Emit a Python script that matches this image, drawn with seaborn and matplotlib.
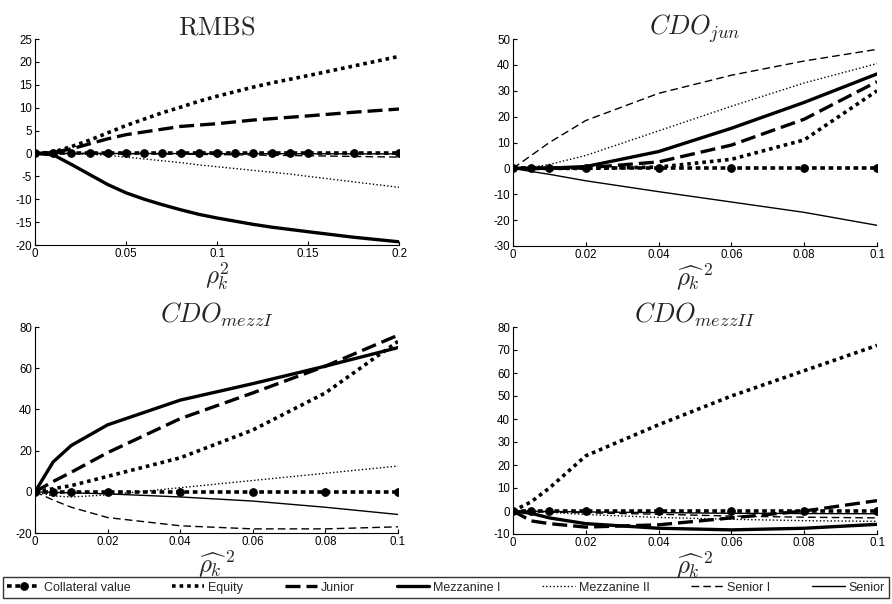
import numpy as np
import pandas as pd
import matplotlib
matplotlib.use("Agg")
import matplotlib.pyplot as plt
from matplotlib.ticker import FormatStrFormatter
import seaborn as sns

sns.set_style("white")
plt.rcParams['font.family'] = ['Liberation Sans', 'DejaVu Sans']
plt.rcParams['mathtext.fontset'] = 'cm'

series_names = ['Collateral value', 'Equity', 'Junior', 'Mezzanine I',
                'Mezzanine II', 'Senior I', 'Senior']

# ---- RMBS ----
x_rmbs = [0, .01, .02, .03, .04, .05, .06, .07, .08, .09, .10, .11, .12, .13, .14, .15, .175, .2]
rmbs_coll = [0] * 18
rmbs_equity = [0, 0.3, 1.5, 2.9, 4.5, 6.1, 7.5, 8.9, 10.1, 11.4, 12.5, 13.5, 14.5, 15.4, 16.2, 17.0, 19.1, 21.2]
rmbs_junior = [0, 0.2, 1.0, 2.1, 3.2, 4.1, 4.7, 5.3, 5.9, 6.2, 6.5, 6.9, 7.3, 7.6, 7.9, 8.2, 9.0, 9.7]
rmbs_mezz1 = [0, -0.3, -2.4, -4.6, -6.8, -8.6, -10.0, -11.2, -12.3, -13.3, -14.1, -14.8, -15.5, -16.1, -16.6, -17.1, -18.3, -19.3]
rmbs_mezz2 = [0, 0, -0.05, -0.2, -0.4, -0.8, -1.2, -1.6, -2.0, -2.5, -2.9, -3.3, -3.7, -4.1, -4.5, -5.0, -6.2, -7.4]
rmbs_senior1 = [0, 0, 0, 0, -0.02, -0.05, -0.08, -0.1, -0.15, -0.2, -0.25, -0.3, -0.35, -0.4, -0.45, -0.5, -0.65, -0.8]
rmbs_senior = [0, 0, 0, 0, 0, -0.01, -0.01, -0.02, -0.02, -0.03, -0.03, -0.04, -0.04, -0.05, -0.05, -0.06, -0.08, -0.1]

# ---- CDO panels ----
x_cdo = [0, .005, .01, .02, .04, .06, .08, .1]

jun_coll = [0] * 8
jun_equity = [0, 0, 0, 0, 0.5, 3.5, 11, 30]
jun_junior = [0, 0, 0, 0.2, 2.5, 9, 19, 33.5]
jun_mezz1 = [0, 0, 0.1, 0.7, 6.5, 15.5, 25.5, 36.5]
jun_mezz2 = [0, 0.4, 1.5, 5, 14.5, 24, 33, 40.5]
jun_senior1 = [0, 5, 10, 18.5, 29, 36, 41.5, 46]
jun_senior = [0, -1.2, -2.3, -4.8, -9, -13, -17, -22]

m1_coll = [0] * 8
m1_equity = [0, 1.5, 3, 7.5, 16.5, 30, 48, 73]
m1_junior = [0, 5, 9.5, 19, 35.5, 48, 61, 76]
m1_mezz1 = [0, 14.5, 22.5, 32.5, 44.5, 52.5, 61, 70]
m1_mezz2 = [0, -2, -2.5, -1.5, 2, 5.5, 9, 12.5]
m1_senior1 = [0, -4, -7.5, -12.5, -16.5, -18, -18, -17]
m1_senior = [0, -0.3, -0.5, -1, -2.5, -4.5, -7.5, -11]

m2_coll = [0] * 8
m2_equity = [0, 4, 10, 24, 37.5, 50, 61, 72]
m2_junior = [0, -4.3, -5.5, -7, -6, -3, 0, 4.5]
m2_mezz1 = [0, -1, -3, -5.5, -7.5, -8.2, -7.5, -5.8]
m2_mezz2 = [0, -0.3, -0.6, -1.5, -2.8, -3.6, -4.2, -4.5]
m2_senior1 = [0, -0.2, -0.4, -0.8, -1.4, -2.2, -2.7, -3.0]
m2_senior = [0, -0.1, -0.2, -0.4, -0.7, -1, -1.1, -1.2]

panels = [
    dict(title=r'$\mathrm{RMBS}$', xlabel=r'$\rho_k^2$', x=x_rmbs,
         ys=[rmbs_coll, rmbs_equity, rmbs_junior, rmbs_mezz1, rmbs_mezz2, rmbs_senior1, rmbs_senior],
         xlim=(0, 0.2), xticks=[0, 0.05, 0.1, 0.15, 0.2], ylim=(-20, 25), yticks=range(-20, 26, 5),
         pos=(35, 39, 399, 245)),
    dict(title=r'$CDO_{jun}$', xlabel=r'$\widehat{\rho_k}^{\,2}$', x=x_cdo,
         ys=[jun_coll, jun_equity, jun_junior, jun_mezz1, jun_mezz2, jun_senior1, jun_senior],
         xlim=(0, 0.1), xticks=[0, 0.02, 0.04, 0.06, 0.08, 0.1], ylim=(-30, 50), yticks=range(-30, 51, 10),
         pos=(513, 39, 877, 246)),
    dict(title=r'$CDO_{mezzI}$', xlabel=r'$\widehat{\rho_k}^{\,2}$', x=x_cdo,
         ys=[m1_coll, m1_equity, m1_junior, m1_mezz1, m1_mezz2, m1_senior1, m1_senior],
         xlim=(0, 0.1), xticks=[0, 0.02, 0.04, 0.06, 0.08, 0.1], ylim=(-20, 80), yticks=range(-20, 81, 20),
         pos=(35, 327, 398, 533)),
    dict(title=r'$CDO_{mezzII}$', xlabel=r'$\widehat{\rho_k}^{\,2}$', x=x_cdo,
         ys=[m2_coll, m2_equity, m2_junior, m2_mezz1, m2_mezz2, m2_senior1, m2_senior],
         xlim=(0, 0.1), xticks=[0, 0.02, 0.04, 0.06, 0.08, 0.1], ylim=(-10, 80), yticks=range(-10, 81, 10),
         pos=(513, 327, 877, 534)),
]

styles = {
    'Collateral value': dict(linewidth=2.6, linestyle=(0, (1.3, 1.0)), marker='o', markersize=5.5, zorder=5),
    'Equity': dict(linewidth=2.6, linestyle=(0, (1.0, 1.1)), zorder=4),
    'Junior': dict(linewidth=2.4, linestyle=(0, (4.5, 1.8)), zorder=4),
    'Mezzanine I': dict(linewidth=2.4, linestyle='-', zorder=4),
    'Mezzanine II': dict(linewidth=1.0, linestyle=(0, (1.0, 1.6)), zorder=3),
    'Senior I': dict(linewidth=1.0, linestyle=(0, (5.5, 3.0)), zorder=3),
    'Senior': dict(linewidth=1.0, linestyle='-', zorder=3),
}

W, H = 892, 604
fig = plt.figure(figsize=(W / 100, H / 100), dpi=100)

axes = []
for p in panels:
    l, t, r, b = p['pos']
    ax = fig.add_axes([l / W, 1 - b / H, (r - l) / W, (b - t) / H])
    for name, y in zip(series_names, p['ys']):
        sns.lineplot(x=p['x'], y=y, ax=ax, color='black', label=name,
                     markeredgecolor='black', **styles[name])
    if ax.get_legend() is not None:
        ax.get_legend().remove()
    ax.set_xlim(*p['xlim'])
    ax.set_ylim(*p['ylim'])
    ax.set_xticks(p['xticks'])
    ax.set_yticks(list(p['yticks']))
    ax.xaxis.set_major_formatter(FormatStrFormatter('%g'))
    ax.yaxis.set_major_formatter(FormatStrFormatter('%g'))
    ax.tick_params(direction='in', length=3, width=0.8, labelsize=8.3, pad=2,
                   bottom=True, left=True, colors='black')
    for s in ['top', 'right']:
        ax.spines[s].set_visible(False)
    for s in ['left', 'bottom']:
        ax.spines[s].set_color('black')
        ax.spines[s].set_linewidth(0.8)
    ax.set_title(p['title'], fontsize=19, pad=3)
    ax.set_xlabel(p['xlabel'], fontsize=18, labelpad=1)
    ax.set_ylabel('')
    axes.append(ax)

handles, labels = axes[0].get_legend_handles_labels()
leg = fig.legend(handles, labels, loc='lower left',
                 bbox_to_anchor=(3 / W, 1 - 598 / H, 886 / W, 26 / H),
                 mode='expand', ncol=7, frameon=True, fancybox=False,
                 edgecolor='black', fontsize=9, handlelength=2.6,
                 handletextpad=0.3, columnspacing=0.6, borderaxespad=0,
                 borderpad=0.35)
leg.get_frame().set_linewidth(1.0)

fig.savefig('out.png', dpi=100, facecolor='white')
